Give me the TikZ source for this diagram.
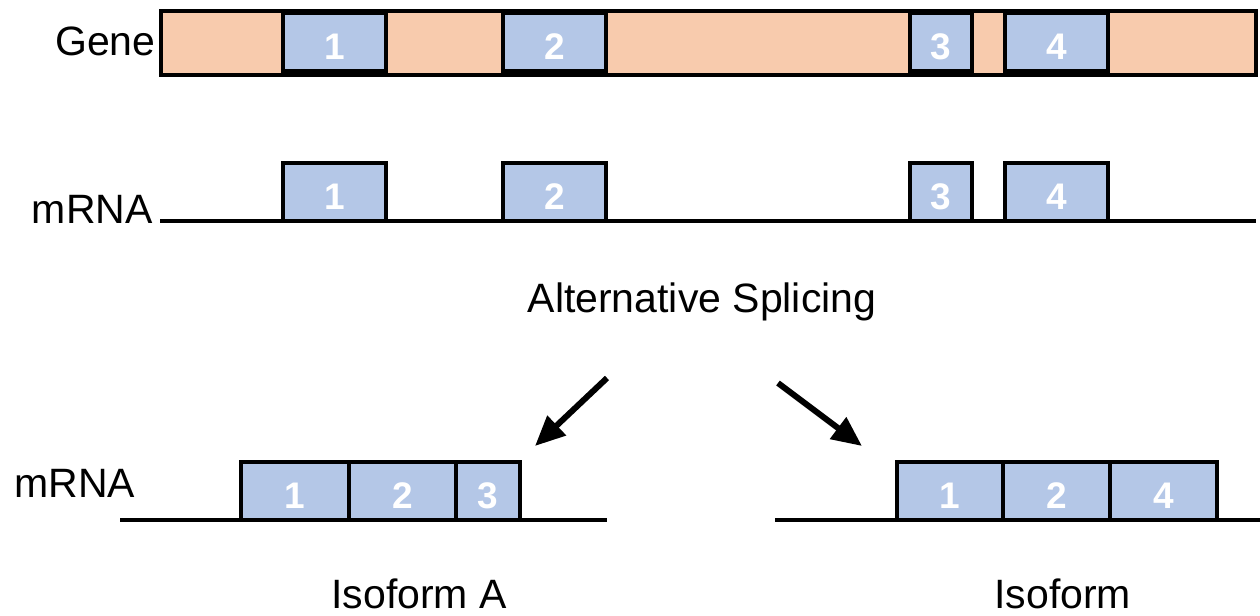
\documentclass[tikz,border=0pt]{standalone}
\usepackage{fontspec}
\setmainfont{Liberation Sans}
\usepackage{xcolor}
\usetikzlibrary{arrows.meta}
\definecolor{gene_peach}{HTML}{F8CBAD}
\definecolor{exon_blue}{HTML}{B4C7E7}

\tikzset{
  exon/.style={draw, line width=2pt, fill=exon_blue, text=white, inner sep=0pt, outer sep=0pt,
    font=\fontsize{18.5}{20}\selectfont\bfseries, text height=17.5pt, text depth=0pt,
    minimum height=29pt},
  lbl/.style={font=\fontsize{20.5}{24}\selectfont, inner sep=0pt},
  strand/.style={line width=2pt},
  splitarrow/.style={line width=3pt, -{Triangle[length=15pt, width=13pt]}}
}

\begin{document}
\begin{tikzpicture}[x=0.5pt, y=-0.5pt]
    % picture frame: 1260 x 616 px, 1 px = 0.5pt
    \useasboundingbox (0,0) rectangle (1260,616);

    % Gene with its four exons
    \node[lbl, anchor=base east] (genelbl) at (156,55) {Gene};
    \node[draw, line width=2pt, fill=gene_peach, inner sep=0pt, outer sep=0pt, anchor=north west,
      minimum width=547.5pt, minimum height=32pt] (gene) at (161,11) {};
    \foreach \n/\x/\w in {1/283/103, 2/503/103, 3/910/62, 4/1005/103} {
      \node[exon, anchor=north west, minimum width=\w*0.5pt] (g\n) at (\x,13) {\n};
    }

    % mRNA after transcription
    \node[lbl, anchor=base east] (rnalbl) at (153,223) {mRNA};
    \coordinate (r_start) at (160,221);
    \coordinate (r_end) at (1256,221);
    \draw[strand] (r_start) -- (r_end);
    \foreach \n/\x/\w in {1/283/103, 2/503/103, 3/910/62, 4/1005/103} {
      \node[exon, anchor=south west, minimum width=\w*0.5pt] (r\n) at (\x,221) {\n};
    }

    \node[lbl, anchor=base] (splice) at (702,312) {Alternative Splicing};

    % two branches
    \coordinate (sa) at (607,378);
    \coordinate (ea) at (535,446);
    \coordinate (sb) at (778,383);
    \coordinate (eb) at (862,446);
    \draw[splitarrow] (sa) -- (ea);
    \draw[splitarrow] (sb) -- (eb);

    % Isoform A: exons 1, 2, 3
    \node[lbl, anchor=base west] (isolbl) at (14,497) {mRNA};
    \coordinate (a_start) at (120,520);
    \coordinate (a_end) at (607,520);
    \draw[strand] (a_start) -- (a_end);
    \foreach \n/\x/\w in {1/241/108, 2/349/107, 3/456/64} {
      \node[exon, anchor=south west, minimum width=\w*0.5pt] (a\n) at (\x,520) {\n};
    }
    \node[lbl, anchor=base west] (isoa) at (331,608) {Isoform A};

    % second isoform: exons 1, 2, 4
    \coordinate (b_start) at (775,520);
    \coordinate (b_end) at (1262,520);
    \draw[strand] (b_start) -- (b_end);
    \foreach \n/\x/\w in {1/897/106, 2/1003/107, 4/1110/107} {
      \node[exon, anchor=south west, minimum width=\w*0.5pt] (b\n) at (\x,520) {\n};
    }
    \node[lbl, anchor=base west] (isob) at (994,608) {Isoform};

\end{tikzpicture}
\end{document}
